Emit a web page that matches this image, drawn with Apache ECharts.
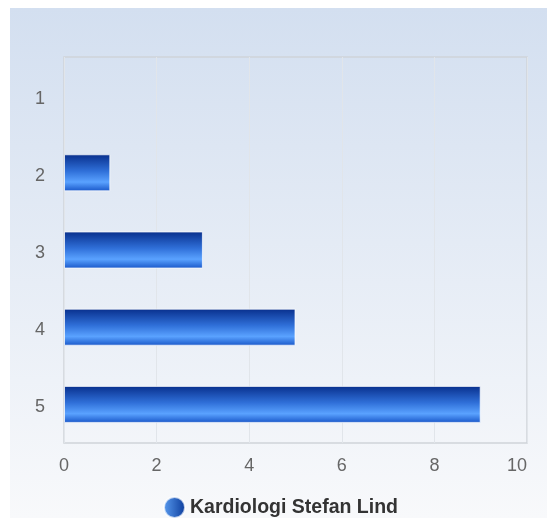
<!DOCTYPE html>
<html>
<head>
<meta charset="utf-8">
<script src="https://cdn.jsdelivr.net/npm/echarts@6/dist/echarts.min.js"></script>
<style>
	html, body { margin: 0; padding: 0; background: #ffffff; }
	#chart { width: 547px; height: 518px; }
</style>
</head>
<body>
<div id="chart"></div>
<script>
const categories = ['1', '2', '3', '4', '5'];
const values = [0, 1, 3, 5, 9];
const seriesName = 'Kardiologi Stefan Lind';

var chart = echarts.init(document.getElementById('chart'));

// bar fill: dark navy on top, bright blue near bottom
var barFill = new echarts.graphic.LinearGradient(0, 0, 0, 1, [
	{ offset: 0, color: '#082f8c' },
	{ offset: 0.45, color: '#2f6fd8' },
	{ offset: 0.75, color: '#5aa2ff' },
	{ offset: 1, color: '#1856c8' }
]);

// no border on empty bars, otherwise a white sliver shows at 0
var barData = values.map(function (v) {
	if (v === 0) {
		return { value: v, itemStyle: { borderWidth: 0 } };
	}
	return v;
});

var option = {
	animation: false,
	graphic: [
		{
			type: 'rect',
			z: -10,
			shape: { x: 10, y: 8, width: 537, height: 510 },
			style: {
				fill: new echarts.graphic.LinearGradient(0, 0, 0, 1, [
					{ offset: 0, color: '#d3dff0' },
					{ offset: 1, color: '#f8f9fb' }
				])
			}
		}
	],
	grid: {
		left: 64,
		right: 20,
		top: 57,
		bottom: 75,
		show: true,
		borderColor: '#cfd3d9',
		borderWidth: 1.5,
		backgroundColor: 'transparent'
	},
	legend: {
		top: 496,
		left: 163,
		padding: 0,
		icon: 'circle',
		itemWidth: 21,
		itemHeight: 21,
		itemGap: 7,
		textStyle: {
			fontFamily: 'Liberation Sans, Arial, sans-serif',
			fontSize: 19.5,
			fontWeight: 'bold',
			color: '#333333'
		},
		data: [{
			name: seriesName,
			itemStyle: {
				color: new echarts.graphic.LinearGradient(0, 0, 1, 0, [
					{ offset: 0, color: '#5a9cf0' },
					{ offset: 1, color: '#0a3a9a' }
				])
			}
		}]
	},
	xAxis: {
		type: 'value',
		min: 0,
		max: 10,
		interval: 2,
		axisLine: { show: false },
		axisTick: { show: false },
		axisLabel: {
			margin: 14,
			alignMaxLabel: 'right',
			fontFamily: 'Liberation Sans, Arial, sans-serif',
			fontSize: 18,
			color: '#666666'
		},
		splitLine: { lineStyle: { color: '#e1e5ea', width: 1 } }
	},
	yAxis: {
		type: 'category',
		inverse: true,
		data: categories,
		axisLine: { show: false },
		axisTick: { show: false },
		axisLabel: {
			margin: 19,
			formatter: '{lbl|{value}}',
			rich: {
				lbl: {
					padding: [6, 0, 0, 0],
					fontFamily: 'Liberation Sans, Arial, sans-serif',
					fontSize: 18,
					color: '#666666'
				}
			}
		},
		splitLine: { show: false }
	},
	series: [
		{
			name: seriesName,
			type: 'bar',
			data: barData,
			barWidth: 37,
			itemStyle: {
				color: barFill,
				borderColor: 'rgba(255,255,255,0.7)',
				borderWidth: 1
			}
		}
	]
};

chart.setOption(option);
</script>
</body>
</html>
